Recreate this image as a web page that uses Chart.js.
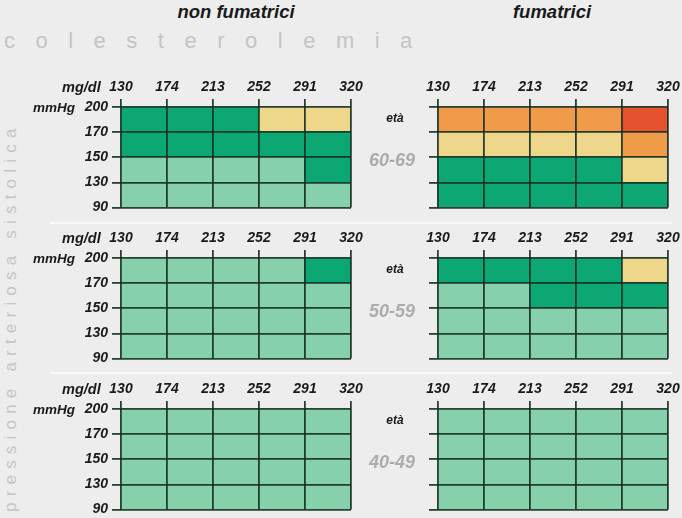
<!DOCTYPE html>
<html>
<head>
<meta charset="utf-8">
<script src="https://cdn.jsdelivr.net/npm/chart.js"></script>
<style>
  body { margin: 0; background: #ededed; }
  #page { position: relative; width: 682px; height: 518px; overflow: hidden; background: #ededed;
          font-family: "Liberation Sans", Arial, sans-serif; }
  canvas { position: absolute; }
  .lbl { position: absolute; white-space: nowrap; z-index: 2; }
  .title { font-weight: bold; font-style: italic; font-size: 18.5px; color: #1a1a1a; transform: translate(-50%, -50%); }
  .unit { font-weight: bold; font-style: italic; font-size: 13.5px; color: #1a1a1a; transform: translateY(-50%); }
  .mg { font-size: 14.5px; }
  .eta { font-weight: bold; font-style: italic; font-size: 12px; color: #1a1a1a; transform: translate(-50%, -50%); }
  .age { font-weight: bold; font-style: italic; font-size: 18px; color: #acacac; transform: translate(-50%, -50%); }
  .sep { position: absolute; height: 2px; background: #f9f9f9; }
  #chol { left: 4px; top: 28px; font-size: 22px; color: #c4c4c4; letter-spacing: 20.5px; }
  #press { left: 1px; top: 512px; font-size: 17px; color: #c4c4c4; letter-spacing: 6.2px;
           transform-origin: 0 0; transform: rotate(-90deg); }
</style>
</head>
<body>
<div id="page"></div>
<script>
// cholesterol (mg/dl) boundaries, top axis
const cholTicks = ['130', '174', '213', '252', '291', '320'];
// systolic pressure (mmHg) boundaries, bottom to top
const bpTicks = ['90', '130', '150', '170', '200'];
const ageGroups = ['60-69', '50-59', '40-49'];
const groupTitles = ['non fumatrici', 'fumatrici'];

// risk level of each cell: rows from top (200-170) to bottom (130-90), columns 130-174 ... 291-320
const nonSmoker6069 = [[2, 2, 2, 3, 3], [2, 2, 2, 2, 2], [1, 1, 1, 1, 2], [1, 1, 1, 1, 1]];
const smoker6069    = [[4, 4, 4, 4, 5], [3, 3, 3, 3, 4], [2, 2, 2, 2, 3], [2, 2, 2, 2, 2]];
const nonSmoker5059 = [[1, 1, 1, 1, 2], [1, 1, 1, 1, 1], [1, 1, 1, 1, 1], [1, 1, 1, 1, 1]];
const smoker5059    = [[2, 2, 2, 2, 3], [1, 1, 2, 2, 2], [1, 1, 1, 1, 1], [1, 1, 1, 1, 1]];
const nonSmoker4049 = [[1, 1, 1, 1, 1], [1, 1, 1, 1, 1], [1, 1, 1, 1, 1], [1, 1, 1, 1, 1]];
const smoker4049    = [[1, 1, 1, 1, 1], [1, 1, 1, 1, 1], [1, 1, 1, 1, 1], [1, 1, 1, 1, 1]];

const levelColors = ['#86d1ab', '#0da774', '#eed68a', '#ef9b4a', '#e4532e'];

// layout
const gridLefts = [121, 438];
const gridTops = [107, 258, 409];
const gridW = 230, gridH = 105;
const padL = 62, padT = 32, padR = 16, padB = 8;
const lineColor = 'rgba(20, 45, 32, 0.9)';
const tickFont = { family: '"Liberation Sans", Arial, sans-serif', size: 14, weight: 'bold', style: 'italic' };

const page = document.getElementById('page');

function addLabel(cls, text, x, y, id) {
  const d = document.createElement('div');
  d.className = 'lbl ' + cls;
  if (id) d.id = id;
  d.textContent = text;
  if (x !== null) { d.style.left = x + 'px'; d.style.top = y + 'px'; }
  page.appendChild(d);
}

function makeGrid(levels, left, top, showY) {
  const cv = document.createElement('canvas');
  cv.width = padL + gridW + padR;
  cv.height = padT + gridH + padB;
  cv.style.left = (left - padL) + 'px';
  cv.style.top = (top - padT) + 'px';
  page.appendChild(cv);

  const rows = levels.slice().reverse();   // bottom row first
  const datasets = rows.map((row, r) => ({
    data: row.map(() => [r, r + 1]),
    backgroundColor: row.map(l => levelColors[l - 1]),
    borderWidth: 0,
    barPercentage: 1,
    categoryPercentage: 1,
    grouped: false
  }));

  new Chart(cv.getContext('2d'), {
    type: 'bar',
    data: { labels: cholTicks.slice(0, 5).map((c, i) => c + '-' + cholTicks[i + 1]), datasets: datasets },
    options: {
      responsive: false,
      animation: false,
      layout: { padding: { left: 0, top: 0, right: padR, bottom: padB } },
      plugins: { legend: { display: false }, tooltip: { enabled: false } },
      scales: {
        x: { type: 'category', display: false, offset: true },
        x2: {
          type: 'linear', position: 'top', min: 0, max: 5, offset: false,
          ticks: { stepSize: 1, autoSkip: false, maxRotation: 0, padding: 3, color: '#1a1a1a', font: tickFont,
                   callback: v => cholTicks[v] },
          grid: { z: 1, offset: false, color: lineColor, lineWidth: 1.8, tickLength: 8 },
          border: { display: false },
          afterFit: s => { s.height = padT; }
        },
        y: {
          min: 0, max: 4,
          ticks: { stepSize: 1, padding: 4, color: '#1a1a1a', font: tickFont,
                   callback: v => showY ? bpTicks[v] : '' },
          grid: { z: 1, color: lineColor, lineWidth: 1.8, tickLength: 9 },
          border: { display: false },
          afterFit: s => { s.width = padL; }
        }
      }
    }
  });
}

const panels = [
  [nonSmoker6069, smoker6069],
  [nonSmoker5059, smoker5059],
  [nonSmoker4049, smoker4049]
];

panels.forEach((pair, i) => {
  makeGrid(pair[0], gridLefts[0], gridTops[i], true);
  makeGrid(pair[1], gridLefts[1], gridTops[i], false);
  addLabel('unit mg', 'mg/dl', 62, gridTops[i] - 20);
  addLabel('unit', 'mmHg', 33, gridTops[i]);
  addLabel('eta', 'età', 395, gridTops[i] + 11);
  addLabel('age', ageGroups[i], 392, gridTops[i] + 53);
});

[222, 372].forEach(y => {
  const s = document.createElement('div');
  s.className = 'sep';
  s.style.left = '50px'; s.style.width = '622px'; s.style.top = y + 'px';
  page.insertBefore(s, page.firstChild);
});

addLabel('title', groupTitles[0], 236, 12);
addLabel('title', groupTitles[1], 552, 12);
addLabel('', 'colesterolemia', null, null, 'chol');
addLabel('', 'pressione arteriosa sistolica', null, null, 'press');
</script>
</body>
</html>
